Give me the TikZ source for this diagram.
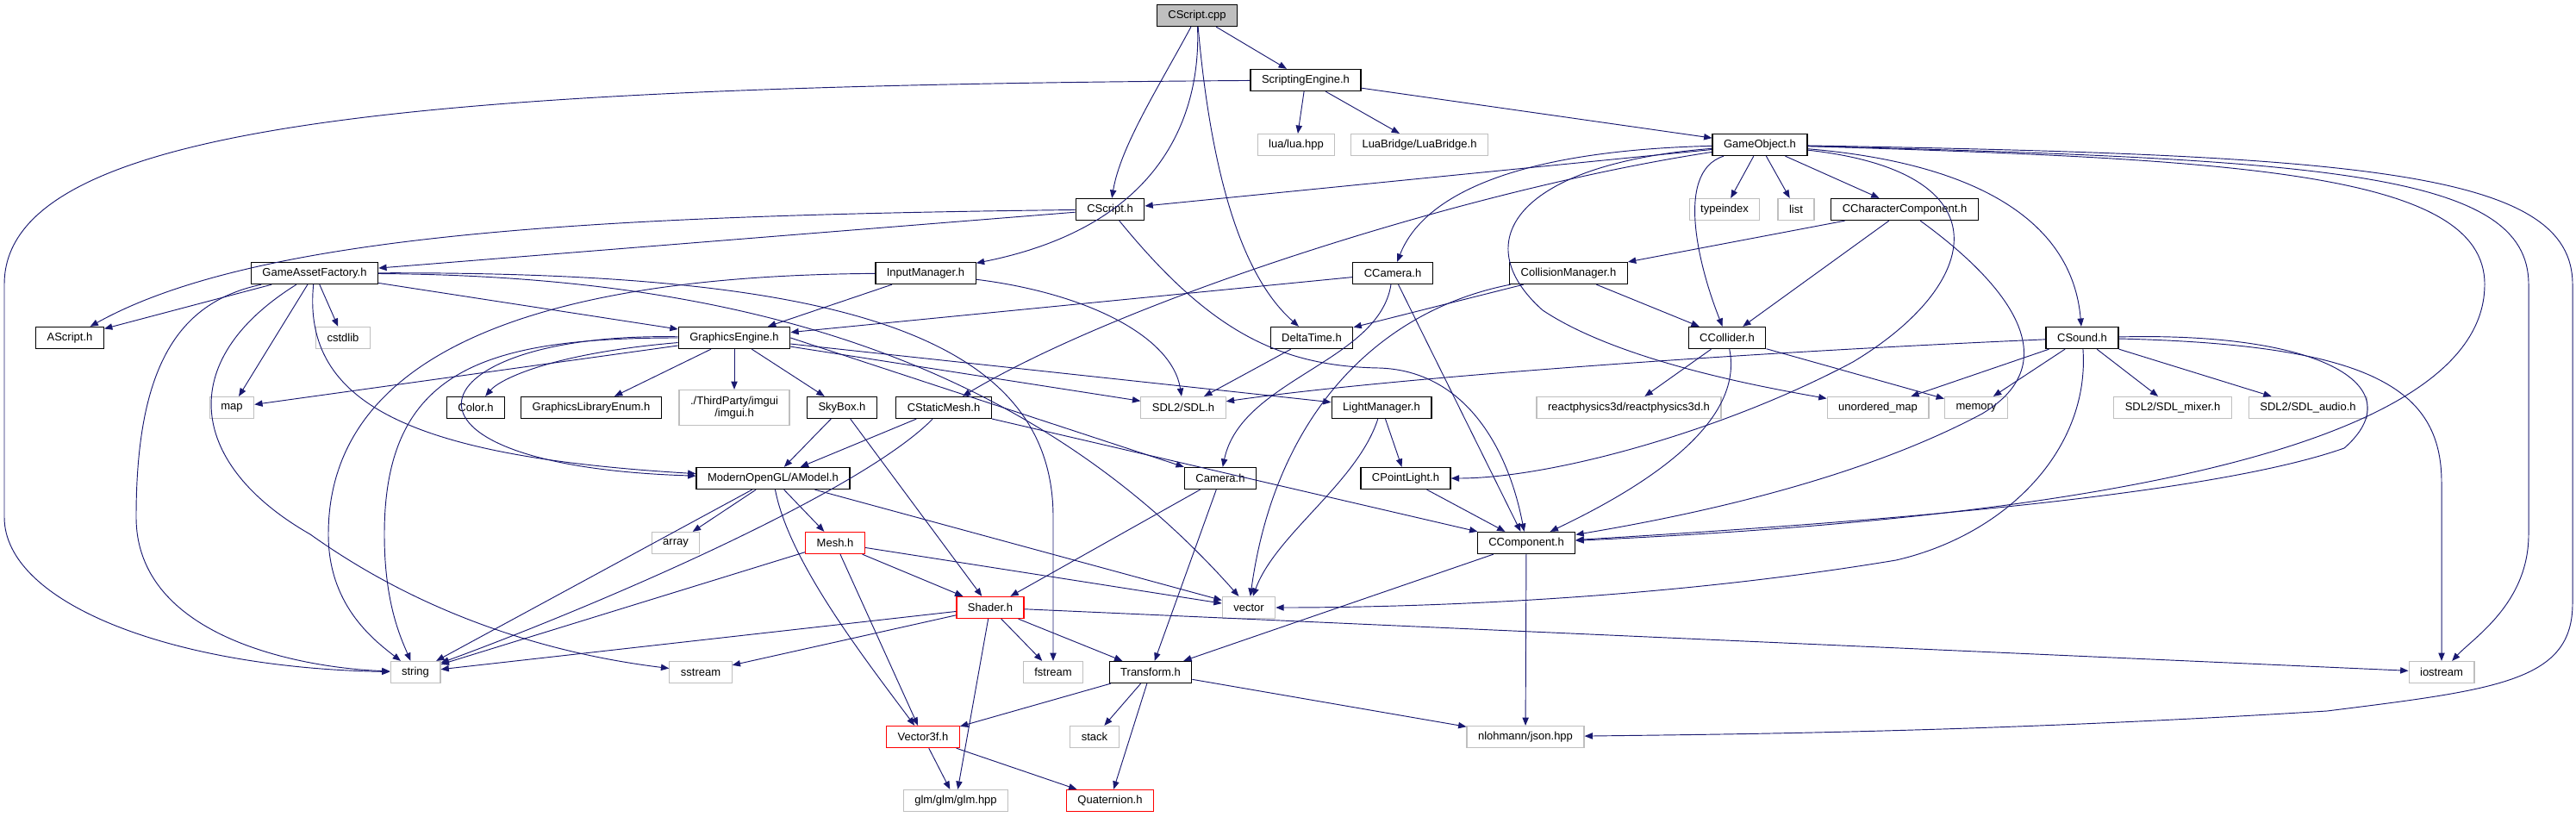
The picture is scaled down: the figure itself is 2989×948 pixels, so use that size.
\documentclass[tikz,border=0pt]{standalone}
\usepackage{fontspec}
\setmainfont{Liberation Sans}
\usetikzlibrary{arrows.meta}
\definecolor{edgeblue}{RGB}{25,25,112}
\definecolor{grey75}{RGB}{191,191,191}

\begin{document}
\begin{tikzpicture}[x=0.75pt,y=-0.75pt,
    every node/.style={rectangle,draw,fill=white,inner xsep=9.75pt,inner ysep=0pt,
                       minimum height=18.75pt,font=\fontsize{9.75}{11}\selectfont},
    hdr/.style={draw=black,line width=1pt},
    sys/.style={draw=grey75,line width=0.9pt},
    trunc/.style={draw=red,line width=1pt},
    src/.style={draw=black,fill=grey75,line width=1pt},
    inc/.style={draw=edgeblue,line width=0.7pt,-{Triangle[length=7pt,width=5.5pt]}}]
  \useasboundingbox (0,0) rectangle (2989,948);

  % files
  \node[src] (cpp) at (1389,18) {CScript.cpp};
  \node[hdr] (se) at (1515,93) {ScriptingEngine.h};
  \node[sys] (lua) at (1504,168) {lua/lua.hpp};
  \node[sys] (luab) at (1647,168) {LuaBridge/LuaBridge.h};
  \node[hdr] (go) at (2042,168) {GameObject.h};
  \node[hdr] (csh) at (1288,243) {CScript.h};
  \node[sys] (typ) at (2001,243) {typeindex};
  \node[sys] (lst) at (2084,243) {list};
  \node[hdr] (cchar) at (2210,243) {CCharacterComponent.h};
  \node[hdr] (gaf) at (365,317) {GameAssetFactory.h};
  \node[hdr] (inp) at (1074,317) {InputManager.h};
  \node[hdr] (ccam) at (1616,317) {CCamera.h};
  \node[hdr] (colm) at (1820,317) {CollisionManager.h};
  \node[hdr] (ascr) at (81,392) {AScript.h};
  \node[sys] (cstd) at (398,392) {cstdlib};
  \node[hdr] (ge) at (852,392) {GraphicsEngine.h};
  \node[hdr] (dt) at (1522,392) {DeltaTime.h};
  \node[hdr] (ccol) at (2004,392) {CCollider.h};
  \node[hdr] (csnd) at (2416,392) {CSound.h};
  \node[sys] (map) at (269,473) {map};
  \node[hdr] (color) at (552,473) {Color.h};
  \node[hdr] (gle) at (686,473) {GraphicsLibraryEnum.h};
  \node[sys,align=center,minimum height=30.75pt] (imgui) at (852,473) {./ThirdParty/imgui\\/imgui.h};
  \node[hdr] (sky) at (977,473) {SkyBox.h};
  \node[hdr] (csm) at (1095,473) {CStaticMesh.h};
  \node[sys] (sdl) at (1373,473) {SDL2/SDL.h};
  \node[hdr] (lm) at (1603,473) {LightManager.h};
  \node[sys] (rp3d) at (1890,473) {reactphysics3d/reactphysics3d.h};
  \node[sys] (umap) at (2179,473) {unordered\_map};
  \node[sys] (mem) at (2293,473) {memory};
  \node[sys] (mix) at (2521,473) {SDL2/SDL\_mixer.h};
  \node[sys] (aud) at (2678,473) {SDL2/SDL\_audio.h};
  \node[hdr] (amod) at (897,555) {ModernOpenGL/AModel.h};
  \node[hdr] (cam) at (1416,555) {Camera.h};
  \node[hdr] (cpl) at (1631,555) {CPointLight.h};
  \node[sys] (arr) at (784,630) {array};
  \node[trunc] (mesh) at (969,630) {Mesh.h};
  \node[hdr] (ccomp) at (1771,630) {CComponent.h};
  \node[trunc] (shd) at (1149,705) {Shader.h};
  \node[sys] (vec) at (1449,705) {vector};
  \node[sys] (str) at (482,780) {string};
  \node[sys] (sst) at (813,780) {sstream};
  \node[sys] (fst) at (1222,780) {fstream};
  \node[hdr] (tr) at (1335,780) {Transform.h};
  \node[sys] (ios) at (2833,780) {iostream};
  \node[trunc] (v3) at (1071,855) {Vector3f.h};
  \node[sys] (stk) at (1270,855) {stack};
  \node[sys] (json) at (1770,855) {nlohmann/json.hpp};
  \node[sys] (glm) at (1109,929) {glm/glm/glm.hpp};
  \node[trunc] (quat) at (1288,929) {Quaternion.h};

  % CScript.cpp
  \draw[inc] (cpp) -- (se);
  \draw[inc] (cpp) .. controls (1345,100) and (1300,170) .. (csh);
  \draw[inc] (cpp) .. controls (1393,120) and (1360,260) .. (inp);
  \draw[inc] (cpp) .. controls (1405,200) and (1440,320) .. (dt);

  % ScriptingEngine.h
  \draw[inc] (se) -- (lua);
  \draw[inc] (se) -- (luab);
  \draw[inc] (se) -- (go);
  \draw[inc] (se) .. controls (500,100) and (5,140) .. (5,330) -- (5,600)
    .. controls (5,700) and (200,775) .. (str);

  % GameObject.h
  \draw[inc] (go) -- (csh);
  \draw[inc] (go) -- (typ);
  \draw[inc] (go) -- (lst);
  \draw[inc] (go) -- (cchar);
  \draw[inc] (go) .. controls (1750,175) and (1650,230) .. (ccam);
  \draw[inc] (go) .. controls (1700,220) and (1300,350) .. (csm);
  \draw[inc] (go) .. controls (1760,190) and (1700,280) .. (1790,360)
    .. controls (1880,420) and (2050,450) .. (umap);
  \draw[inc] (go) .. controls (1940,200) and (1975,320) .. (ccol);
  \draw[inc] (go) .. controls (2330,200) and (2300,330) .. (2150,420)
    .. controls (2000,500) and (1800,555) .. (cpl);
  \draw[inc] (go) .. controls (2300,190) and (2405,260) .. (csnd);
  \draw[inc] (go) .. controls (2600,185) and (2883,200) .. (2883,330)
    .. controls (2883,560) and (2200,610) .. (ccomp);
  \draw[inc] (go) .. controls (2700,185) and (2934,200) .. (2934,330) -- (2934,620)
    .. controls (2934,700) and (2870,740) .. (ios);
  \draw[inc] (go) .. controls (2750,180) and (2985,200) .. (2985,330) -- (2985,700)
    .. controls (2985,790) and (2900,800) .. (2700,825)
    .. controls (2300,850) and (2000,852) .. (json);

  % CCharacterComponent.h
  \draw[inc] (cchar) -- (colm);
  \draw[inc] (cchar) -- (ccol);
  \draw[inc] (cchar) .. controls (2330,330) and (2400,420) .. (2300,480)
    .. controls (2150,560) and (1950,600) .. (ccomp);

  % CSound.h
  \draw[inc] (csnd) .. controls (2000,410) and (1600,440) .. (sdl);
  \draw[inc] (csnd) -- (umap);
  \draw[inc] (csnd) -- (mem);
  \draw[inc] (csnd) -- (mix);
  \draw[inc] (csnd) -- (aud);
  \draw[inc] (csnd) .. controls (2700,385) and (2800,450) .. (2720,520)
    .. controls (2550,580) and (2100,610) .. (ccomp);
  \draw[inc] (csnd) .. controls (2750,400) and (2833,450) .. (2833,560) -- (ios);
  \draw[inc] (csnd) .. controls (2425,520) and (2330,620) .. (2200,650)
    .. controls (1900,700) and (1600,705) .. (vec);

  % CCollider.h, CollisionManager.h
  \draw[inc] (ccol) -- (rp3d);
  \draw[inc] (ccol) -- (mem);
  \draw[inc] (ccol) .. controls (2020,470) and (1960,540) .. (ccomp);
  \draw[inc] (colm) -- (dt);
  \draw[inc] (colm) -- (ccol);
  \draw[inc] (colm) .. controls (1600,360) and (1480,480) .. (vec);

  % CCamera.h, DeltaTime.h, LightManager.h, CPointLight.h
  \draw[inc] (ccam) -- (ge);
  \draw[inc] (ccam) .. controls (1600,420) and (1440,440) .. (cam);
  \draw[inc] (ccam) -- (ccomp);
  \draw[inc] (dt) -- (sdl);
  \draw[inc] (lm) -- (cpl);
  \draw[inc] (lm) .. controls (1575,560) and (1480,620) .. (vec);
  \draw[inc] (cpl) -- (ccomp);

  % CScript.h
  \draw[inc] (csh) -- (gaf);
  \draw[inc] (csh) .. controls (700,250) and (300,270) .. (ascr);
  \draw[inc] (csh) .. controls (1400,380) and (1480,425) .. (1600,427)
    .. controls (1700,430) and (1750,520) .. (ccomp);

  % InputManager.h
  \draw[inc] (inp) .. controls (600,320) and (381,420) .. (381,620)
    .. controls (381,700) and (430,740) .. (str);
  \draw[inc] (inp) -- (ge);
  \draw[inc] (inp) .. controls (1260,340) and (1360,390) .. (sdl);

  % GameAssetFactory.h
  \draw[inc] (gaf) -- (ascr);
  \draw[inc] (gaf) -- (cstd);
  \draw[inc] (gaf) -- (map);
  \draw[inc] (gaf) -- (ge);
  \draw[inc] (gaf) .. controls (210,350) and (158,420) .. (158,600)
    .. controls (158,740) and (350,775) .. (str);
  \draw[inc] (gaf) .. controls (200,420) and (220,540) .. (360,620)
    .. controls (500,720) and (650,760) .. (sst);
  \draw[inc] (gaf) .. controls (350,470) and (480,530) .. (amod);
  \draw[inc] (gaf) .. controls (950,315) and (1222,380) .. (1222,600) -- (fst);
  \draw[inc] (gaf) .. controls (800,320) and (1170,390) .. (vec);

  % GraphicsEngine.h
  \draw[inc] (ge) .. controls (480,385) and (420,540) .. (amod);
  \draw[inc] (ge) .. controls (560,392) and (446,430) .. (446,620)
    .. controls (446,700) and (465,740) .. (str);
  \draw[inc] (ge) -- (map);
  \draw[inc] (ge) .. controls (640,410) and (580,440) .. (color);
  \draw[inc] (ge) -- (gle);
  \draw[inc] (ge) -- (imgui);
  \draw[inc] (ge) -- (sky);
  \draw[inc] (ge) -- (lm);
  \draw[inc] (ge) -- (sdl);
  \draw[inc] (ge.east) -- (cam.north west);

  % SkyBox.h, CStaticMesh.h
  \draw[inc] (sky) -- (amod);
  \draw[inc] (sky) -- (shd);
  \draw[inc] (csm) -- (amod);
  \draw[inc] (csm) .. controls (1000,570) and (700,700) .. (str);
  \draw[inc] (csm) -- (ccomp);

  % ModernOpenGL/AModel.h, Mesh.h
  \draw[inc] (amod) -- (arr);
  \draw[inc] (amod) -- (mesh);
  \draw[inc] (amod) -- (vec);
  \draw[inc] (amod) -- (str);
  \draw[inc] (amod) .. controls (915,650) and (1000,760) .. (v3);
  \draw[inc] (mesh) -- (shd);
  \draw[inc] (mesh) -- (vec);
  \draw[inc] (mesh) -- (str);
  \draw[inc] (mesh) -- (v3);

  % Camera.h, Shader.h
  \draw[inc] (cam) -- (shd);
  \draw[inc] (cam) -- (tr);
  \draw[inc] (shd) -- (str);
  \draw[inc] (shd) -- (sst);
  \draw[inc] (shd) -- (glm);
  \draw[inc] (shd) -- (fst);
  \draw[inc] (shd) -- (tr);
  \draw[inc] (shd) -- (ios);

  % Transform.h, Vector3f.h, CComponent.h
  \draw[inc] (tr) -- (v3);
  \draw[inc] (tr) -- (stk);
  \draw[inc] (tr) -- (quat);
  \draw[inc] (tr) -- (json);
  \draw[inc] (v3) -- (glm);
  \draw[inc] (v3) -- (quat);
  \draw[inc] (ccomp) -- (tr);
  \draw[inc] (ccomp) -- (json);
\end{tikzpicture}
\end{document}
